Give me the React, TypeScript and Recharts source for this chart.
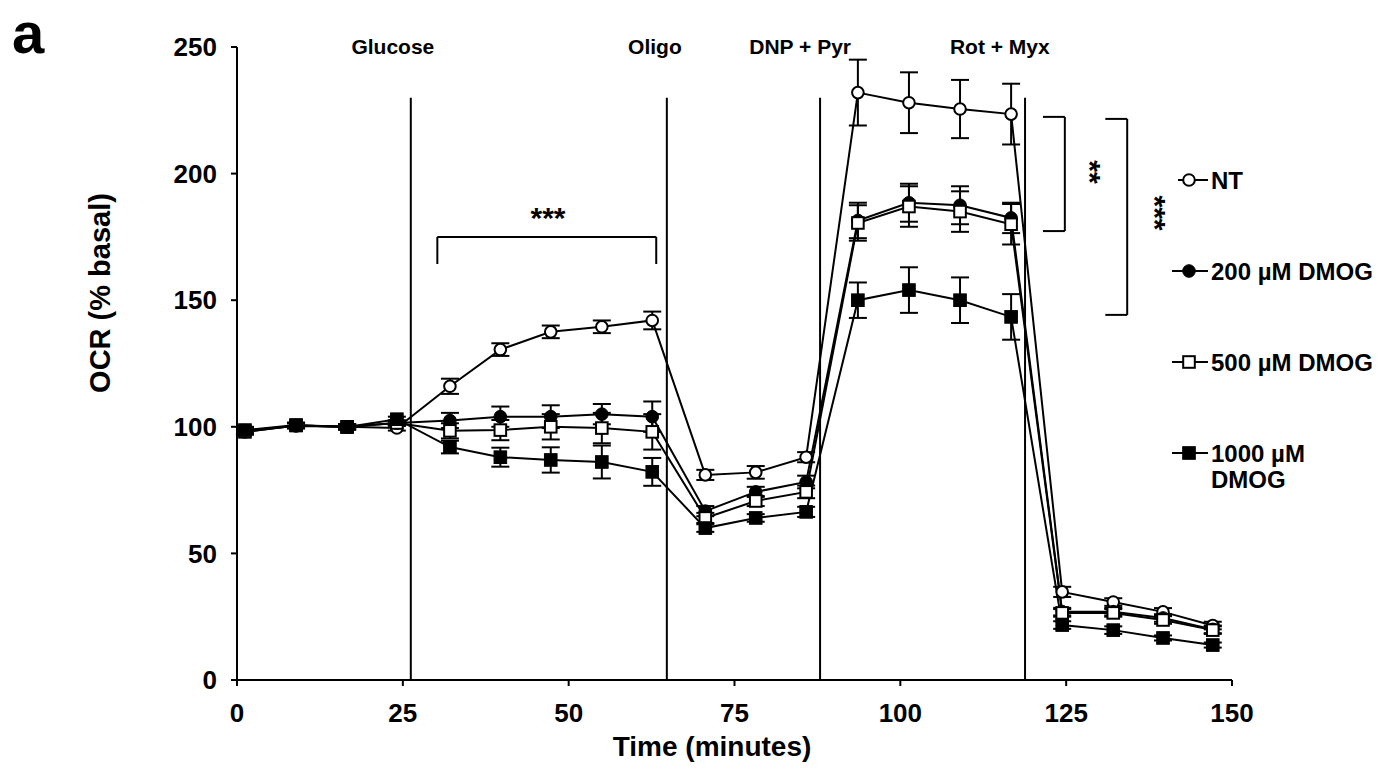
import React from 'react';
import { LineChart, Line, XAxis, YAxis, ErrorBar, ReferenceLine } from 'recharts';

const times = [1.2, 8.9, 16.6, 24.1, 32.1, 39.7, 47.3, 55.0, 62.6, 70.6, 78.2, 85.8, 93.6, 101.3, 109.0, 116.7, 124.4, 132.1, 139.6, 147.1];
const ntValues = [98.5, 100.3, 100, 99.5, 116, 130.5, 137.5, 139.5, 142, 81, 82, 88, 232, 228, 225.5, 223.5, 34.8, 30.8, 26.9, 21.5];
const ntErrors = [1.5, 1, 1, 1, 3, 2.5, 2.5, 2.5, 3.5, 2, 2.5, 2, 13, 12, 11.5, 12, 2, 1.5, 1.5, 1.5];
const d200Values = [98, 100.5, 100, 101.5, 102.5, 104, 104, 105, 104, 66.7, 74.3, 78.2, 181.5, 188.5, 187.5, 182.5, 27, 27, 24.5, 20];
const d200Errors = [1, 1, 1, 1, 3, 4, 4.5, 4, 6, 2, 2, 2.5, 7, 7.5, 7.5, 6, 1.5, 1.5, 1.5, 1.5];
const d500Values = [98, 100.5, 100, 101.5, 98.4, 98.7, 100, 99.5, 98, 64, 70.7, 74.3, 180.5, 187, 185, 180, 26.5, 26.5, 23.7, 19.7];
const d500Errors = [1, 1, 1, 1, 3, 4, 5, 6, 7, 2, 2, 2.5, 7, 8, 8, 8, 1.5, 1.5, 1.5, 1.5];
const d1000Values = [98.7, 100.7, 99.9, 103, 92, 88, 86.9, 86.1, 82.2, 60, 64, 66.4, 150, 154, 150, 143.4, 21.7, 19.7, 16.6, 13.8];
const d1000Errors = [1, 1, 1, 1, 2.5, 3.75, 5, 6.5, 5.5, 1.5, 1.5, 2, 7, 9, 9, 9, 1.5, 1.5, 1, 1];

const xTicks = [0, 25, 50, 75, 100, 125, 150];
const yTicks = [0, 50, 100, 150, 200, 250];

const treatments = [
  { name: 'Glucose', at: 26.2, labelX: 23.5 },
  { name: 'Oligo', at: 64.8, labelX: 63 },
  { name: 'DNP + Pyr', at: 87.9, labelX: 84.9 },
  { name: 'Rot + Myx', at: 118.8, labelX: 115 },
];

const legendItems = [
  { lines: ['NT'], shape: 'openCircle' },
  { lines: ['200 µM DMOG'], shape: 'filledCircle' },
  { lines: ['500 µM DMOG'], shape: 'openSquare' },
  { lines: ['1000 µM', 'DMOG'], shape: 'filledSquare' },
];
const legendY = [180, 271, 362, 453];

const data = times.map((t, i) => ({
  t,
  nt: ntValues[i],
  ntErr: ntErrors[i],
  d200: d200Values[i],
  d200Err: d200Errors[i],
  d500: d500Values[i],
  d500Err: d500Errors[i],
  d1000: d1000Values[i],
  d1000Err: d1000Errors[i],
}));

const W = 1381;
const H = 771;
const LEFT = 237;
const RIGHT = 1232;
const TOP = 47;
const BOTTOM = 680;
const Y_AXIS_W = 80;
const X_AXIS_H = 50;
const FONT = '"Liberation Sans", Arial, Helvetica, sans-serif';

const xPx = (v: number) => LEFT + (v / 150) * (RIGHT - LEFT);
const yPx = (v: number) => BOTTOM - (v / 250) * (BOTTOM - TOP);

function Marker({ shape, cx, cy }: { shape: string; cx: number; cy: number }) {
  if (shape === 'openCircle') return <circle cx={cx} cy={cy} r={5.8} fill="#fff" stroke="#000" strokeWidth={2} />;
  if (shape === 'filledCircle') return <circle cx={cx} cy={cy} r={6.3} fill="#000" stroke="#000" strokeWidth={1} />;
  if (shape === 'openSquare') return <rect x={cx - 5.8} y={cy - 5.8} width={11.6} height={11.6} fill="#fff" stroke="#000" strokeWidth={2} />;
  return <rect x={cx - 6.3} y={cy - 6.3} width={12.6} height={12.6} fill="#000" stroke="#000" strokeWidth={1} />;
}

const makeDot = (shape: string) => (props: any) => {
  const { cx, cy, index } = props;
  if (cx == null || cy == null) return <g key={`d-${shape}-${index}`} />;
  return (
    <g key={`d-${shape}-${index}`}>
      <Marker shape={shape} cx={cx} cy={cy} />
    </g>
  );
};

const series = [
  { key: 'nt', err: 'ntErr', shape: 'openCircle' },
  { key: 'd200', err: 'd200Err', shape: 'filledCircle' },
  { key: 'd500', err: 'd500Err', shape: 'openSquare' },
  { key: 'd1000', err: 'd1000Err', shape: 'filledSquare' },
];

const seg = (x1: number, y1: number, x2: number, y2: number) => [
  { x: x1, y: y1 },
  { x: x2, y: y2 },
];

export default function App() {
  return (
    <div style={{ position: 'absolute', left: 0, top: 0, width: W, height: H, background: '#fff' }}>
      <div style={{ position: 'absolute', left: 0, top: 0 }}>
        <LineChart
          width={W}
          height={H}
          data={data}
          margin={{ top: TOP, right: W - RIGHT, bottom: H - BOTTOM - X_AXIS_H, left: LEFT - Y_AXIS_W }}
        >
          <XAxis
            dataKey="t"
            type="number"
            domain={[0, 150]}
            ticks={xTicks}
            height={X_AXIS_H}
            stroke="#000"
            axisLine={{ stroke: '#000', strokeWidth: 2 }}
            tickLine={{ stroke: '#000', strokeWidth: 2 }}
            tickSize={6}
            tickMargin={18}
            tick={{ fill: '#000', fontSize: 26, fontWeight: 700, fontFamily: FONT }}
            interval={0}
          />
          <YAxis
            type="number"
            domain={[0, 250]}
            ticks={yTicks}
            width={Y_AXIS_W}
            stroke="#000"
            axisLine={{ stroke: '#000', strokeWidth: 2 }}
            tickLine={{ stroke: '#000', strokeWidth: 2 }}
            tickSize={6}
            tickMargin={14}
            tick={{ fill: '#000', fontSize: 26, fontWeight: 700, fontFamily: FONT }}
            interval={0}
          />
          {treatments.map((tr) => (
            <ReferenceLine key={tr.name} segment={seg(tr.at, 0, tr.at, 230)} stroke="#000" strokeWidth={2} ifOverflow="visible" />
          ))}
          {/* top bracket (glucose phase) */}
          <ReferenceLine segment={seg(30.2, 175, 63.2, 175)} stroke="#000" strokeWidth={2} ifOverflow="visible" />
          <ReferenceLine segment={seg(30.2, 175, 30.2, 164.3)} stroke="#000" strokeWidth={2} ifOverflow="visible" />
          <ReferenceLine segment={seg(63.2, 175, 63.2, 164.3)} stroke="#000" strokeWidth={2} ifOverflow="visible" />
          {/* right bracket 1 */}
          <ReferenceLine segment={seg(121.5, 222.4, 124.8, 222.4)} stroke="#000" strokeWidth={2} ifOverflow="visible" />
          <ReferenceLine segment={seg(124.8, 222.4, 124.8, 177.3)} stroke="#000" strokeWidth={2} ifOverflow="visible" />
          <ReferenceLine segment={seg(121.5, 177.3, 124.8, 177.3)} stroke="#000" strokeWidth={2} ifOverflow="visible" />
          {/* right bracket 2 */}
          <ReferenceLine segment={seg(130.9, 221.6, 134.2, 221.6)} stroke="#000" strokeWidth={2} ifOverflow="visible" />
          <ReferenceLine segment={seg(134.2, 221.6, 134.2, 144.2)} stroke="#000" strokeWidth={2} ifOverflow="visible" />
          <ReferenceLine segment={seg(130.9, 144.2, 134.2, 144.2)} stroke="#000" strokeWidth={2} ifOverflow="visible" />
          {series.map((s) => (
            <Line
              key={s.key}
              dataKey={s.key}
              type="linear"
              stroke="#000"
              strokeWidth={2}
              dot={makeDot(s.shape)}
              activeDot={false}
              isAnimationActive={false}
            >
              <ErrorBar dataKey={s.err} direction="y" width={9} stroke="#000" strokeWidth={2} isAnimationActive={false} />
            </Line>
          ))}
        </LineChart>
      </div>
      <svg
        width={W}
        height={H}
        style={{ position: 'absolute', left: 0, top: 0, pointerEvents: 'none' }}
        fontFamily={FONT}
        fontWeight={700}
      >
        <text x={12} y={53} fontSize={58} fill="#000">a</text>
        {treatments.map((tr) => (
          <text key={tr.name} x={xPx(tr.labelX)} y={yPx(250) - 1} fontSize={21} textAnchor="middle" dominantBaseline="central" fill="#000">
            {tr.name}
          </text>
        ))}
        <text x={548} y={yPx(175) - 9} fontSize={30} textAnchor="middle" fill="#000">***</text>
        <text
          x={0}
          y={0}
          fontSize={30}
          textAnchor="middle"
          dominantBaseline="central"
          fill="#000"
          transform={`translate(${1090}, ${172}) rotate(90)`}
        >
          **
        </text>
        <text
          x={0}
          y={0}
          fontSize={30}
          textAnchor="middle"
          dominantBaseline="central"
          fill="#000"
          transform={`translate(${1155}, ${213}) rotate(90)`}
        >
          ***
        </text>
        <text
          x={0}
          y={0}
          fontSize={29}
          textAnchor="middle"
          dominantBaseline="central"
          fill="#000"
          transform={`translate(100, 293) rotate(-90)`}
        >
          OCR (% basal)
        </text>
        <text x={712} y={746} fontSize={28} textAnchor="middle" dominantBaseline="central" fill="#000">
          Time (minutes)
        </text>
        {legendItems.map((it, i) => (
          <g key={it.lines[0]}>
            <line x1={it.shape === 'openCircle' ? 1178 : 1172} x2={1208} y1={legendY[i]} y2={legendY[i]} stroke="#000" strokeWidth={2} />
            <Marker shape={it.shape} cx={1189} cy={legendY[i]} />
            {it.lines.map((ln, j) => (
              <text key={ln} x={1211} y={legendY[i] + j * 26} fontSize={24} dominantBaseline="central" fill="#000">
                {ln}
              </text>
            ))}
          </g>
        ))}
      </svg>
    </div>
  );
}
